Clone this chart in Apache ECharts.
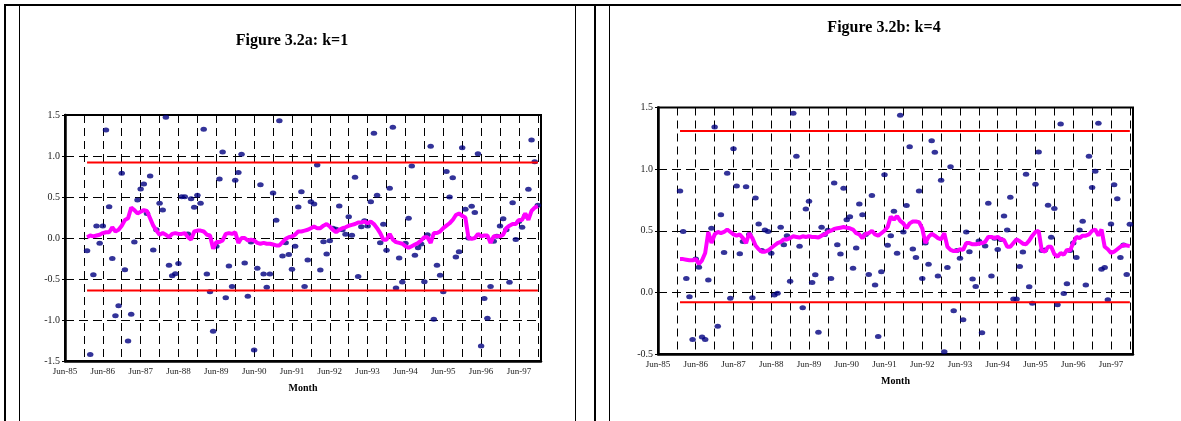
<!DOCTYPE html>
<html>
<head>
<meta charset="utf-8">
<script src="https://cdn.jsdelivr.net/npm/echarts@6/dist/echarts.min.js"></script>
<style>
html, body { margin:0; padding:0; background:#fff; }
#chart { width:1181px; height:421px; }
</style>
</head>
<body>
<div id="chart"></div>
<script type="text/javascript">
// x axis counts months from Jun-85 (=0); observations run monthly Jan-86 .. Dec-97
var firstMonth = 7;
var tickLabels = ['Jun-85','Jun-86','Jun-87','Jun-88','Jun-89','Jun-90','Jun-91',
                  'Jun-92','Jun-93','Jun-94','Jun-95','Jun-96','Jun-97'];

// Figure 3.2a: k=1
var dotsK1 = [-0.155,-1.42,-0.447,0.146,-0.065,0.146,1.317,0.382,-0.25,-0.949,-0.827,0.79,
  -0.387,-1.255,-0.93,-0.049,0.463,0.598,0.659,0.30,0.756,-0.146,0.10,0.423,
  0.341,1.472,-0.333,-0.46,-0.435,-0.31,0.504,0.504,0.05,0.48,0.374,0.52,
  0.423,1.325,-0.44,-0.655,-1.137,-0.10,0.72,1.049,-0.729,-0.34,-0.59,0.703,
  0.8,1.02,-0.305,-0.71,-0.05,-1.365,-0.37,0.65,-0.44,-0.6,-0.44,0.549,
  0.216,1.43,-0.22,-0.057,-0.2,-0.38,-0.1,0.378,0.565,-0.59,-0.268,0.443,
  0.415,0.89,-0.39,-0.045,-0.195,-0.033,0.12,0.106,0.39,0.10,0.045,0.26,
  0.033,0.74,-0.47,0.138,0.211,0.146,0.443,1.276,0.52,-0.057,0.167,-0.15,
  0.606,1.35,-0.61,-0.244,-0.537,-0.065,0.24,0.878,-0.21,-0.12,-0.073,-0.533,
  0.04,1.118,-0.99,-0.333,-0.455,-0.655,0.81,0.5,0.736,-0.232,-0.167,1.1,
  0.35,0.0,0.386,0.31,1.028,-1.316,-0.737,-0.98,-0.59,-0.04,0.02,0.146,
  0.236,0.1,-0.54,0.43,-0.017,0.2,0.13,0.268,0.594,1.195,0.93,0.4];
var avgK1 = [0.01,0.03,0.02,0.03,0.04,0.06,0.07,0.07,0.13,0.08,0.10,0.15,
  0.22,0.24,0.37,0.34,0.30,0.32,0.34,0.33,0.24,0.15,0.09,0.04,
  0.06,0.04,0.01,0.05,0.06,0.05,0.05,0.06,0.01,-0.02,0.08,0.09,
  0.09,0.08,0.04,0.03,-0.13,-0.05,-0.05,-0.03,0.05,0.06,0.05,0.07,
  -0.06,0.0,0.0,-0.03,-0.02,-0.03,-0.06,-0.07,-0.06,-0.07,-0.07,-0.08,
  -0.09,-0.09,-0.05,-0.01,0.01,0.02,0.04,0.08,0.08,0.09,0.10,0.12,
  0.14,0.12,0.12,0.15,0.17,0.14,0.10,0.07,0.10,0.12,0.13,0.15,
  0.16,0.17,0.19,0.19,0.20,0.18,0.20,0.17,0.12,0.06,-0.02,-0.02,
  0.05,-0.02,-0.05,-0.06,-0.07,-0.10,-0.12,-0.10,-0.08,-0.06,-0.03,0.01,
  0.01,-0.06,0.06,0.06,0.08,0.12,0.15,0.18,0.22,0.28,0.30,0.27,
  0.25,0.0,-0.01,0.0,0.05,0.02,0.03,0.03,-0.06,0.02,0.02,0.02,
  0.04,0.12,0.15,0.17,0.17,0.22,0.22,0.30,0.22,0.33,0.37,0.39];
var limitsK1 = [-0.64, 0.92];

// Figure 3.2b: k=4
var dotsK4 = [0.823,0.493,0.113,-0.035,-0.382,0.27,0.204,-0.363,-0.382,0.1,0.52,1.342,
  -0.274,0.63,0.323,0.966,-0.048,1.166,0.863,0.314,0.412,0.858,0.47,-0.043,
  0.766,0.555,0.34,0.507,0.493,0.318,-0.022,-0.008,0.528,0.387,0.46,0.091,
  1.453,1.104,0.374,-0.124,0.677,0.739,0.08,0.142,-0.323,0.528,0.47,0.504,
  0.113,0.888,0.387,0.312,0.845,0.59,0.614,0.196,0.36,0.717,0.63,0.47,
  0.145,0.785,0.059,-0.358,0.167,0.955,0.382,0.46,0.658,0.317,1.437,0.49,
  0.704,1.182,0.352,0.282,0.823,0.113,0.40,0.228,1.231,1.137,0.132,0.91,
  -0.481,0.201,1.02,-0.15,0.34,0.277,-0.223,0.49,0.33,0.108,0.048,0.417,
  -0.328,0.377,0.723,0.132,0.44,0.347,0.43,0.62,0.506,0.772,-0.054,-0.054,
  0.209,0.328,0.958,0.046,-0.089,0.877,1.139,0.34,0.344,0.707,0.447,0.68,
  -0.1,1.366,-0.01,0.07,0.34,0.40,0.282,0.507,0.577,0.059,1.104,0.85,
  0.983,1.372,0.188,0.201,-0.059,0.555,0.874,0.76,0.282,0.385,0.145,0.553];
var avgK4 = [0.27,0.27,0.265,0.26,0.26,0.27,0.23,0.26,0.32,0.49,0.40,0.47,
  0.49,0.48,0.49,0.51,0.49,0.47,0.46,0.47,0.44,0.40,0.48,0.44,
  0.38,0.35,0.33,0.33,0.34,0.36,0.38,0.40,0.41,0.43,0.43,0.44,
  0.455,0.45,0.445,0.455,0.45,0.455,0.45,0.45,0.445,0.46,0.47,0.49,
  0.50,0.515,0.52,0.525,0.53,0.525,0.52,0.51,0.48,0.47,0.44,0.475,
  0.48,0.50,0.47,0.46,0.48,0.50,0.53,0.615,0.59,0.62,0.58,0.56,
  0.52,0.56,0.575,0.575,0.57,0.52,0.40,0.45,0.475,0.46,0.44,0.43,
  0.48,0.37,0.345,0.335,0.335,0.35,0.345,0.40,0.40,0.39,0.39,0.395,
  0.40,0.41,0.45,0.45,0.44,0.45,0.43,0.425,0.37,0.37,0.40,0.43,
  0.415,0.395,0.39,0.42,0.46,0.49,0.50,0.34,0.33,0.37,0.37,0.31,
  0.29,0.32,0.305,0.345,0.34,0.40,0.45,0.44,0.46,0.46,0.47,0.50,
  0.51,0.46,0.51,0.37,0.35,0.32,0.33,0.35,0.37,0.385,0.38,0.375];
var limitsK4 = [-0.08, 1.31];

function pairs(vals) {
  var out = [];
  for (var i = 0; i < vals.length; i++) out.push([firstMonth + i, vals[i]]);
  return out;
}
function limitLine(v, n) {
  return [[firstMonth, v], [firstMonth + n - 1, v]];
}

var serif = 'Liberation Serif';
var dash = { color:'#000', width:1, type:[9,5] };

function xAxisFor(gi) {
  return {
    gridIndex: gi, type:'value', min:0, max:151, interval:6,
    name:'Month', nameLocation:'middle', nameGap:22,
    nameTextStyle:{ fontFamily:serif, fontSize:10, fontWeight:'bold', color:'#000' },
    axisLine:{ onZero:false, lineStyle:{ color:'#000', width:2.5 } },
    axisTick:{ show:false },
    axisLabel:{ fontFamily:serif, fontSize:9, color:'#222', margin:6,
      formatter:function (v) { return v % 12 === 0 ? (tickLabels[v / 12] || '') : ''; } },
    splitLine:{ show:true, lineStyle:{ color:'#000', width:1, type:[8,5] } }
  };
}
function yAxisFor(gi, lo, hi) {
  return {
    gridIndex: gi, type:'value', min:lo, max:hi, interval:0.5,
    axisLine:{ show:true, onZero:false, lineStyle:{ color:'#000', width:2.5 } },
    axisTick:{ show:true, length:3, lineStyle:{ color:'#000' } },
    axisLabel:{ fontFamily:serif, fontSize:10, color:'#222', margin:5,
      formatter:function (v) { return v.toFixed(1); } },
    splitLine:{ show:true, lineStyle:dash }
  };
}

var dotStyle = { type:'scatter', symbol:'circle', symbolSize:[6.5,5],
  itemStyle:{ color:'#000080' }, silent:true };
var redStyle = { color:'#ff0000', width:2 };
var pinkStyle = { color:'#ff00ff', width:4 };

var option = {
  animation:false,
  backgroundColor:'#fff',
  title:[
    { text:'Figure 3.2a: k=1', left:292, top:33, textAlign:'center', padding:0,
      textStyle:{ fontFamily:serif, fontSize:16, fontWeight:'bold', color:'#000' } },
    { text:'Figure 3.2b: k=4', left:884, top:20, textAlign:'center', padding:0,
      textStyle:{ fontFamily:serif, fontSize:16, fontWeight:'bold', color:'#000' } }
  ],
  grid:[
    { left:65, top:115, width:476, height:246, show:true, borderColor:'#000', borderWidth:2, backgroundColor:'#fff' },
    { left:658, top:107.5, width:475, height:246.5, show:true, borderColor:'#000', borderWidth:2, backgroundColor:'#fff' }
  ],
  xAxis:[ xAxisFor(0), xAxisFor(1) ],
  yAxis:[ yAxisFor(0, -1.5, 1.5), yAxisFor(1, -0.5, 1.5) ],
  series:[
    Object.assign({ xAxisIndex:0, yAxisIndex:0, data:pairs(dotsK1) }, dotStyle),
    { type:'line', xAxisIndex:0, yAxisIndex:0, data:limitLine(limitsK1[1], dotsK1.length), symbol:'none', lineStyle:redStyle, silent:true },
    { type:'line', xAxisIndex:0, yAxisIndex:0, data:limitLine(limitsK1[0], dotsK1.length), symbol:'none', lineStyle:redStyle, silent:true },
    { type:'line', xAxisIndex:0, yAxisIndex:0, data:pairs(avgK1), symbol:'none', lineStyle:pinkStyle, silent:true },

    Object.assign({ xAxisIndex:1, yAxisIndex:1, data:pairs(dotsK4) }, dotStyle),
    { type:'line', xAxisIndex:1, yAxisIndex:1, data:limitLine(limitsK4[1], dotsK4.length), symbol:'none', lineStyle:redStyle, silent:true },
    { type:'line', xAxisIndex:1, yAxisIndex:1, data:limitLine(limitsK4[0], dotsK4.length), symbol:'none', lineStyle:redStyle, silent:true },
    { type:'line', xAxisIndex:1, yAxisIndex:1, data:pairs(avgK4), symbol:'none', lineStyle:pinkStyle, silent:true }
  ],
  // table frame around the two figures
  graphic:[
    { type:'line', shape:{ x1:4, y1:5, x2:1181, y2:5 }, style:{ stroke:'#000', lineWidth:2 } },
    { type:'line', shape:{ x1:5, y1:4, x2:5, y2:421 }, style:{ stroke:'#000', lineWidth:2 } },
    { type:'line', shape:{ x1:19.5, y1:5, x2:19.5, y2:421 }, style:{ stroke:'#000', lineWidth:1 } },
    { type:'line', shape:{ x1:575.5, y1:5, x2:575.5, y2:421 }, style:{ stroke:'#000', lineWidth:1 } },
    { type:'line', shape:{ x1:595, y1:5, x2:595, y2:421 }, style:{ stroke:'#000', lineWidth:2 } },
    { type:'line', shape:{ x1:609.5, y1:5, x2:609.5, y2:421 }, style:{ stroke:'#000', lineWidth:1 } }
  ]
};

var myChart = echarts.init(document.getElementById('chart'));
myChart.setOption(option);
</script>
</body>
</html>
